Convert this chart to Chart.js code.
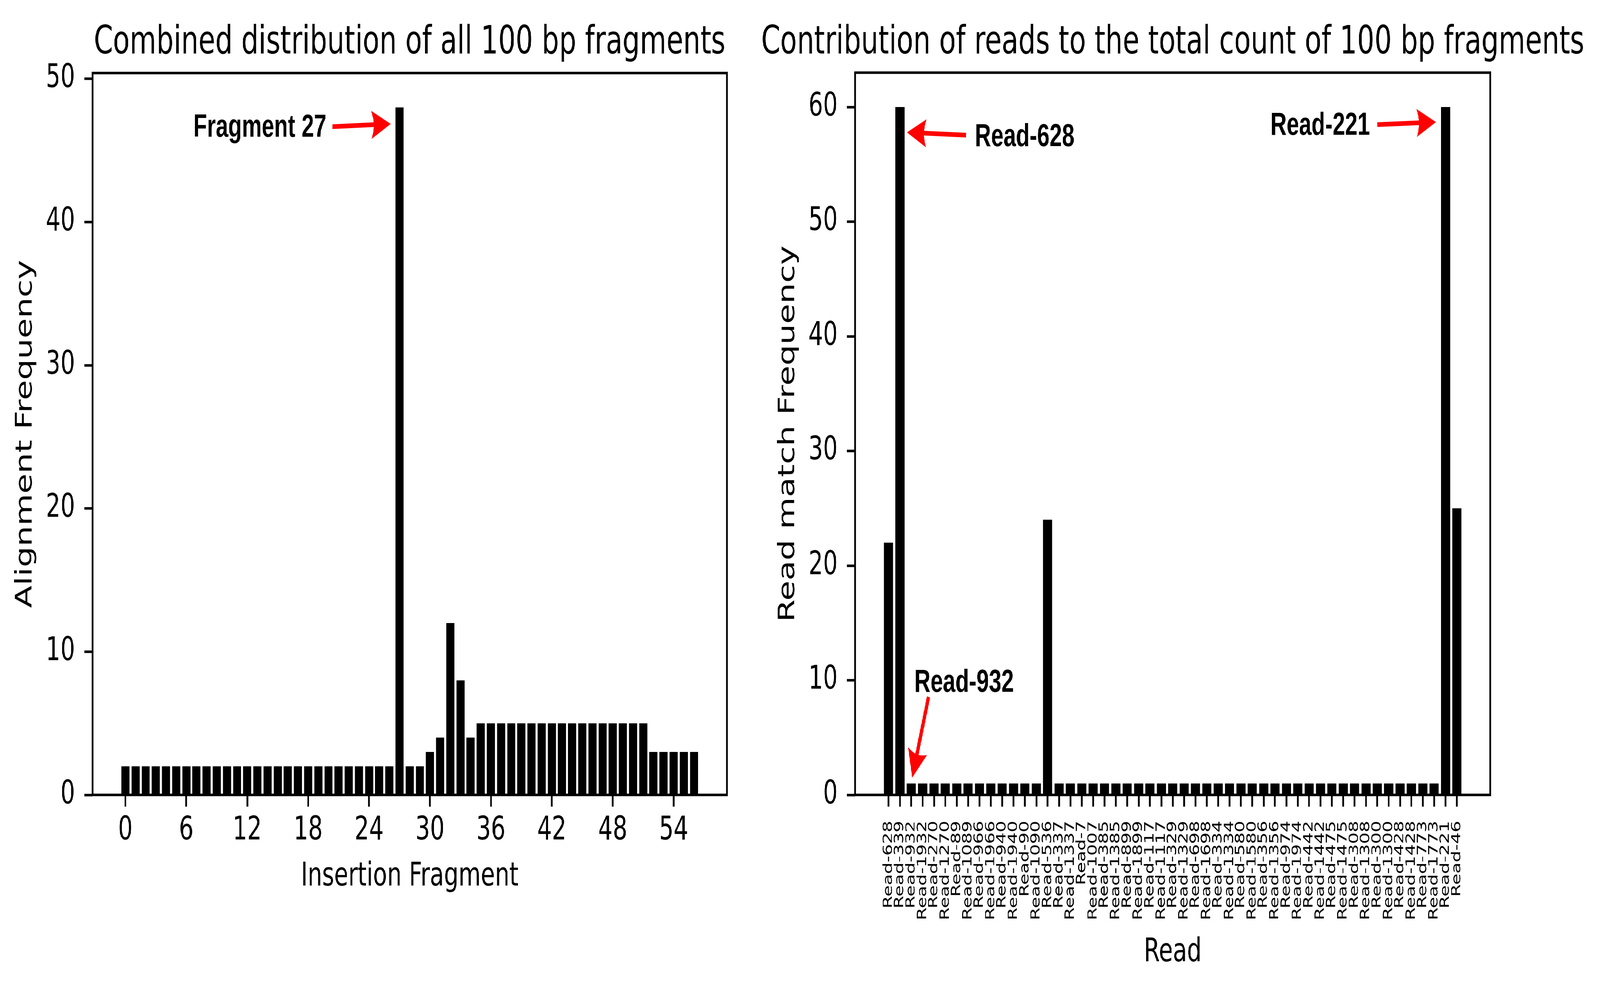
<!DOCTYPE html>
<html>
<head>
<meta charset="utf-8">
<script src="https://cdn.jsdelivr.net/npm/chart.js@4.4.1/dist/chart.umd.min.js"></script>
<style>
  html, body { margin: 0; padding: 0; background: #fff; overflow: hidden; }
  #figure { width: 5864px; height: 2537px; position: relative; transform-origin: 0 0; background: #fff; }
  canvas { position: absolute; top: 0; }
  #fragments { left: 0; }
  #reads { left: 2760px; }
</style>
</head>
<body>
<div id="figure">
  <canvas id="fragments" width="2760" height="2537"></canvas>
  <canvas id="reads" width="3104" height="2537"></canvas>
</div>
<script>
// left panel: alignment frequency per insertion fragment
const FRAGMENT_COUNTS = [
  2, 2, 2, 2, 2, 2, 2, 2, 2, 2,
  2, 2, 2, 2, 2, 2, 2, 2, 2, 2,
  2, 2, 2, 2, 2, 2, 2, 48, 2, 2,
  3, 4, 12, 8, 4, 5, 5, 5, 5, 5,
  5, 5, 5, 5, 5, 5, 5, 5, 5, 5,
  5, 5, 3, 3, 3, 3, 3
];
const FRAGMENTS = FRAGMENT_COUNTS.map((_, i) => i);
const FRAGMENT_TICKS = [0, 6, 12, 18, 24, 30, 36, 42, 48, 54];
const FRAGMENT_Y_TICKS = [0, 10, 20, 30, 40, 50];

// right panel: read match frequency per read
const READS = [
  "Read-628", "Read-339", "Read-932", "Read-1932", "Read-270", "Read-1270",
  "Read-89", "Read-1089", "Read-966", "Read-1966", "Read-940", "Read-1940",
  "Read-90", "Read-1090", "Read-536", "Read-337", "Read-1337", "Read-7",
  "Read-1007", "Read-385", "Read-1385", "Read-899", "Read-1899", "Read-117",
  "Read-1117", "Read-329", "Read-1329", "Read-698", "Read-1698", "Read-334",
  "Read-1334", "Read-580", "Read-1580", "Read-356", "Read-1356", "Read-974",
  "Read-1974", "Read-442", "Read-1442", "Read-475", "Read-1475", "Read-308",
  "Read-1308", "Read-300", "Read-1300", "Read-428", "Read-1428", "Read-773",
  "Read-1773", "Read-221", "Read-46"
];
const READ_COUNTS = [
  22, 60, 1, 1, 1, 1, 1, 1, 1, 1, 1, 1, 1, 1, 24, 1, 1,
  1, 1, 1, 1, 1, 1, 1, 1, 1, 1, 1, 1, 1, 1, 1, 1, 1,
  1, 1, 1, 1, 1, 1, 1, 1, 1, 1, 1, 1, 1, 1, 1, 60, 25
];
const READ_Y_TICKS = [0, 10, 20, 30, 40, 50, 60];

// annotations, in data coordinates: text anchor, arrow tail, arrow tip
const FRAGMENT_NOTES = [
  { text: "Fragment 27", align: "right", at: [19.8, 45.95], from: [20.4, 46.66], to: [26.13, 46.85] }
];
const READ_NOTES = [
  { text: "Read-628", align: "left", at: [7.6, 56.59], from: [6.83, 57.55], to: [1.62, 57.79] },
  { text: "Read-221", align: "right", at: [42.35, 57.58], from: [43.0, 58.47], to: [48.16, 58.69] },
  { text: "Read-932", align: "left", at: [2.27, 9.0], from: [3.52, 8.55], to: [2.08, 1.5] }
];

// the figure is laid out at 5864x2537; stretch it onto the window we actually get
const sx = window.innerWidth / 5864;
const sy = window.innerHeight / 2537;
document.getElementById("figure").style.transform = "scale(" + sx + ", " + sy + ")";

Chart.defaults.font.family = "'DejaVu Sans', sans-serif";
Chart.defaults.color = "#000";

function drawArrow(ctx, x1, y1, x2, y2) {
  const ang = Math.atan2(y2 - y1, x2 - x1);
  const ux = Math.cos(ang), uy = Math.sin(ang);
  const nx = -uy, ny = ux;
  const headLen = 71, halfW = 36, notch = 9;
  const bx = x2 - ux * headLen, by = y2 - uy * headLen;
  const jx = bx + ux * notch, jy = by + uy * notch;

  ctx.lineWidth = 12;
  ctx.beginPath();
  ctx.moveTo(x1, y1);
  ctx.lineTo(jx + ux * 4, jy + uy * 4);
  ctx.stroke();

  ctx.beginPath();
  ctx.moveTo(x2, y2);
  ctx.lineTo(bx + nx * halfW, by + ny * halfW);
  ctx.quadraticCurveTo(jx + nx * halfW * 0.45, jy + ny * halfW * 0.45, jx, jy);
  ctx.quadraticCurveTo(jx - nx * halfW * 0.45, jy - ny * halfW * 0.45, bx - nx * halfW, by - ny * halfW);
  ctx.closePath();
  ctx.fill();
}

const panelDecor = {
  id: "panelDecor",
  afterDatasetsDraw(chart, args, opts) {
    const { ctx, chartArea: a, scales: { x, y } } = chart;
    ctx.save();
    // full box frame like matplotlib spines
    ctx.strokeStyle = "#000";
    ctx.lineWidth = 6.5;
    ctx.strokeRect(a.left, a.top, a.right - a.left, a.bottom - a.top);

    ctx.fillStyle = "#000";
    ctx.font = "100px 'DejaVu Sans'";
    ctx.textAlign = "center";
    ctx.textBaseline = "alphabetic";
    ctx.fillText(opts.title, (a.left + a.right) / 2, 137);

    opts.notes.forEach((note) => {
      ctx.fillStyle = "#000";
      ctx.font = "bold 82px 'Liberation Sans', Arial, sans-serif";
      ctx.textAlign = note.align;
      ctx.textBaseline = "alphabetic";
      ctx.fillText(note.text, x.getPixelForValue(note.at[0]), y.getPixelForValue(note.at[1]));
      ctx.fillStyle = "#ff0000";
      ctx.strokeStyle = "#ff0000";
      drawArrow(
        ctx,
        x.getPixelForValue(note.from[0]), y.getPixelForValue(note.from[1]),
        x.getPixelForValue(note.to[0]), y.getPixelForValue(note.to[1])
      );
    });
    ctx.restore();
  }
};

const tickGrid = {
  drawOnChartArea: false,
  drawTicks: true,
  tickLength: 30,
  tickWidth: 6.5,
  tickColor: "#000",
  offset: false
};

function setTicks(values) {
  return (scale) => {
    scale.ticks = values.map((v) => ({ value: v }));
  };
}

new Chart(document.getElementById("fragments"), {
  type: "bar",
  data: {
    labels: FRAGMENTS,
    datasets: [{
      data: FRAGMENT_COUNTS,
      backgroundColor: "#000",
      borderWidth: 0,
      categoryPercentage: 1,
      barPercentage: 0.8
    }]
  },
  options: {
    responsive: false,
    devicePixelRatio: 1,
    animation: false,
    events: [],
    layout: { padding: { top: 187, right: 96, left: 0, bottom: 0 } },
    plugins: {
      legend: { display: false },
      tooltip: { enabled: false },
      panelDecor: {
        title: "Combined distribution of all 100 bp fragments",
        notes: FRAGMENT_NOTES
      }
    },
    scales: {
      x: {
        type: "linear",
        offset: false,
        min: -3.24,
        max: 59.24,
        grid: tickGrid,
        border: { display: false },
        afterBuildTicks: setTicks(FRAGMENT_TICKS),
        afterFit: (scale) => { scale.height = 502; },
        ticks: { font: { size: 84 }, padding: 12, autoSkip: false, maxRotation: 0 },
        title: {
          display: true,
          text: "Insertion Fragment",
          font: { size: 84 },
          padding: { top: 0, bottom: 241.6 }
        }
      },
      y: {
        min: 0,
        max: 50.4,
        grid: tickGrid,
        border: { display: false },
        afterBuildTicks: setTicks(FRAGMENT_Y_TICKS),
        afterFit: (scale) => { scale.width = 339; },
        ticks: { font: { size: 84 }, padding: 34 },
        title: {
          display: true,
          text: "Alignment Frequency",
          font: { size: 84 },
          padding: { top: 43.6, bottom: 0 }
        }
      }
    }
  },
  plugins: [panelDecor]
});

new Chart(document.getElementById("reads"), {
  type: "bar",
  data: {
    labels: READS.map((_, i) => i),
    datasets: [{
      data: READ_COUNTS,
      backgroundColor: "#000",
      borderWidth: 0,
      categoryPercentage: 1,
      barPercentage: 0.8
    }]
  },
  options: {
    responsive: false,
    devicePixelRatio: 1,
    animation: false,
    events: [],
    layout: { padding: { top: 186, right: 402, left: 0, bottom: 0 } },
    plugins: {
      legend: { display: false },
      tooltip: { enabled: false },
      panelDecor: {
        title: "Contribution of reads to the total count of 100 bp fragments",
        notes: READ_NOTES
      }
    },
    scales: {
      x: {
        type: "linear",
        offset: false,
        min: -2.94,
        max: 52.94,
        grid: tickGrid,
        border: { display: false },
        afterBuildTicks: (scale) => {
          scale.ticks = READS.map((_, i) => ({ value: i }));
        },
        afterFit: (scale) => { scale.height = 502; },
        ticks: {
          font: { size: 47 },
          padding: 36,
          autoSkip: false,
          minRotation: 90,
          maxRotation: 90,
          callback: (value) => READS[value]
        },
        title: {
          display: true,
          text: "Read",
          font: { size: 84 },
          padding: { top: 0, bottom: 47.6 }
        }
      },
      y: {
        min: 0,
        max: 63,
        grid: tickGrid,
        border: { display: false },
        afterBuildTicks: setTicks(READ_Y_TICKS),
        afterFit: (scale) => { scale.width = 374; },
        ticks: { font: { size: 84 }, padding: 34 },
        title: {
          display: true,
          text: "Read match Frequency",
          font: { size: 84 },
          padding: { top: 78.6, bottom: 0 }
        }
      }
    }
  },
  plugins: [panelDecor]
});
</script>
</body>
</html>
